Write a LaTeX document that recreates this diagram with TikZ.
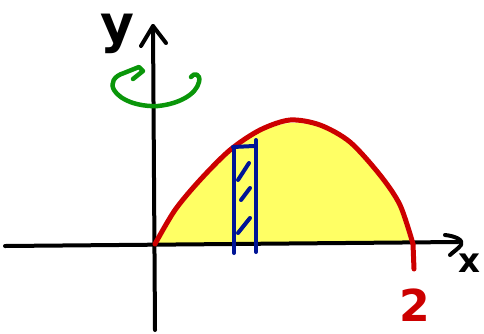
\documentclass[tikz,border=0pt]{standalone}
\usepackage{fontspec}
\setmainfont{DejaVu Sans}
\definecolor{sketchred}{RGB}{204,0,0}
\definecolor{sketchblue}{RGB}{0,20,150}
\definecolor{sketchgreen}{RGB}{10,150,10}
\definecolor{sketchyellow}{RGB}{255,255,100}
\tikzset{
  axisline/.style={line width=4pt, black, line cap=round, line join=round},
  curveline/.style={line width=5pt, sketchred, line cap=round, line join=round},
  stripline/.style={line width=4pt, sketchblue, line cap=round},
  rotline/.style={line width=4.5pt, sketchgreen, line cap=round, line join=round},
  lbl/.style={inner sep=0pt, font=\bfseries\fontsize{52}{52}\selectfont}
}
\begin{document}
\begin{tikzpicture}[x=1pt,y=-1pt]
\useasboundingbox (0,0) rectangle (484,333);
% coordinates
\coordinate (O) at (155,244);
\coordinate (xl) at (5,246);
\coordinate (xr) at (458,242);
\coordinate (yb) at (155,330);
\coordinate (yt) at (153,26);
\coordinate (P2) at (413,244);
% yellow region
\fill[sketchyellow] plot[smooth] coordinates {(157,243) (175,212) (200,182) (230,152) (260,132) (290,123) (320,127) (350,144) (378,176) (398,206) (410,243)} -- cycle;
% axes
\draw[axisline] (xl) -- (xr);
\draw[axisline] (445,235) .. controls (455,236) and (464,240) .. (461,245) .. controls (458,249) and (453,252) .. (450,255);
\draw[axisline] (yb) -- (yt);
\draw[axisline] (141,46) -- (yt) -- (166,43);
% red curve
\draw[curveline] plot[smooth] coordinates {(O) (175,210) (200,180) (230,150) (260,130) (290,120) (320,125) (350,142) (380,175) (400,205) (P2)};
\draw[curveline] (P2) -- (414,269) coordinate (tick);
% blue strip
\draw[stripline] (234,148) -- (234,253);
\draw[stripline] (256,140) -- (256,252);
\draw[stripline] (233,147) -- (254,146);
\draw[stripline] (238,180) -- (249,163);
\draw[stripline] (241,200) -- (250,188);
\draw[stripline] (238,233) -- (250,218);
% green rotation arrow
\draw[rotline] (191,77) .. controls (194,72) and (201,74) .. (199,82)
  .. controls (196,95) and (178,104) .. (158,106)
  .. controls (138,107) and (120,100) .. (114,90)
  .. controls (110,83) and (114,76) .. (124,73)
  -- (139,67) -- (143,71) -- (133,79);
% labels
\node[lbl] (ylab) at (117,34) {y};
\node[lbl, font=\bfseries\fontsize{34}{34}\selectfont] (xlab) at (469,263) {x};
\node[lbl, text=sketchred, font=\bfseries\fontsize{44}{44}\selectfont] (two) at (415,305) {2};
\end{tikzpicture}
\end{document}
